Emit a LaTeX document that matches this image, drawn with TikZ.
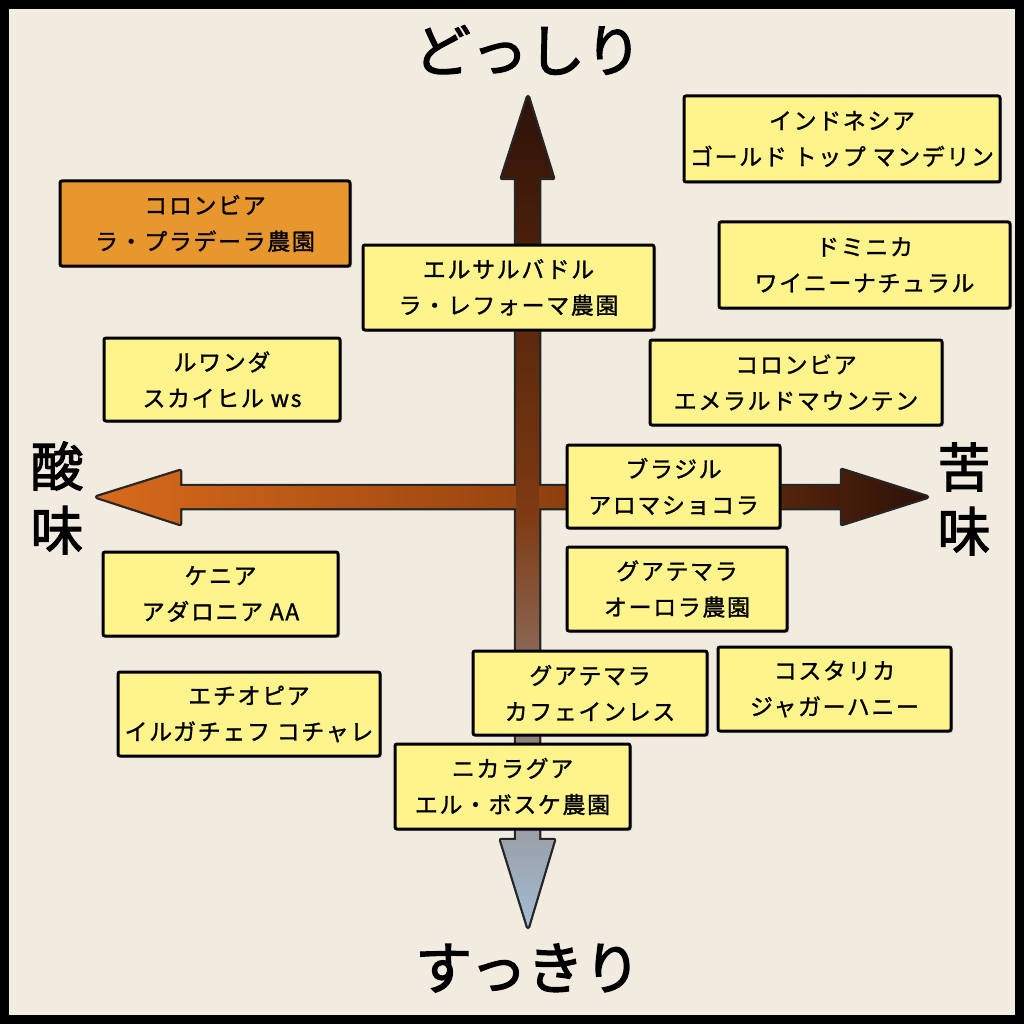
\documentclass[tikz,border=0pt]{standalone}
\usepackage{fontspec}
\setmainfont{Noto Sans CJK JP}
\newfontfamily\boxfont[LetterSpace=7, FakeBold=1.2]{Noto Sans CJK JP}
\newfontfamily\bigfont[FakeBold=2.2]{Noto Sans CJK JP}
\usetikzlibrary{shadows}
\definecolor{bgc}{HTML}{F2ECE0}
\definecolor{boxy}{HTML}{FFF48C}
\definecolor{boxo}{HTML}{E8962E}
\definecolor{darkbr}{HTML}{2E1208}
\definecolor{midbr}{HTML}{7E3A12}
\definecolor{lblue}{HTML}{A2BDD4}
\definecolor{orng}{HTML}{D86A1C}
\definecolor{hmid}{HTML}{9A4610}
\tikzset{
  bean/.style={draw=black, line width=3pt, rounded corners=2pt, fill=boxy,
    align=center, inner sep=0pt,
    font={\boxfont\fontsize{23}{36}\selectfont},
    drop shadow={opacity=0.3, shadow xshift=2pt, shadow yshift=-2pt}},
  beanorange/.style={bean, fill=boxo},
  biglabel/.style={font={\bigfont\fontsize{57}{60}\selectfont}, inner sep=0pt},
  sidelabel/.style={font={\bigfont\fontsize{53}{64}\selectfont}, inner sep=0pt, align=center},
  arrowline/.style={draw=black!85, line width=4.5pt, line join=round},
}
\begin{document}
\begin{tikzpicture}[x=1pt,y=-1pt]
\useasboundingbox (0,0) rectangle (1024,1024);
\fill[black] (0,0) rectangle (1024,1024);
\fill[bgc] (9,9) rectangle (1015,1015);

% axis arrows: outlines
\coordinate (vtop) at (528,97);
\coordinate (vbot) at (528,927);
\coordinate (hleft) at (97,497);
\coordinate (hright) at (927,497);
\def\hpath{(hleft) -- (180,471) -- (180,486) -- (842,486) -- (842,470) -- (hright) -- (842,524) -- (842,508) -- (180,508) -- (180,524) -- cycle}
\def\vpath{(vtop) -- (553,178) -- (539,178) -- (539,840) -- (554,840) -- (vbot) -- (501,840) -- (516,840) -- (516,178) -- (502,178) -- cycle}
\draw[arrowline] \hpath;
\draw[arrowline] \vpath;
\shade[left color=orng, right color=darkbr, middle color=hmid] \hpath;
\shade[top color=darkbr, bottom color=lblue, middle color=midbr] \vpath;

% axis labels
\node[biglabel] (heavy) at (528,50) {どっしり};
\node[biglabel] (light) at (528,968) {すっきり};
\node[sidelabel] (sour) at (57,498) {酸\\味};
\node[sidelabel] (bitter) at (964,499) {苦\\味};

% beans
\node[bean, minimum width=316pt, minimum height=86pt] (indo) at (842,139) {インドネシア\\ゴールド トップ マンデリン};
\node[beanorange, minimum width=290pt, minimum height=85pt] (colpra) at (205,223.5) {コロンビア\\ラ・プラデーラ農園};
\node[bean, minimum width=291pt, minimum height=86pt] (domi) at (864.5,265) {ドミニカ\\ワイニーナチュラル};
\node[bean, minimum width=291pt, minimum height=85pt] (elsal) at (508.5,287.5) {エルサルバドル\\ラ・レフォーマ農園};
\node[bean, minimum width=236pt, minimum height=83pt] (rwa) at (222,379.5) {ルワンダ\\スカイヒル ws};
\node[bean, minimum width=292pt, minimum height=85pt] (colem) at (796,382.5) {コロンビア\\エメラルドマウンテン};
\node[bean, minimum width=213pt, minimum height=83pt] (bra) at (673.5,486.5) {ブラジル\\アロマショコラ};
\node[bean, minimum width=235pt, minimum height=84pt] (ken) at (220.5,594) {ケニア\\アダロニア AA};
\node[bean, minimum width=220pt, minimum height=84pt] (guaau) at (677,589) {グアテマラ\\オーロラ農園};
\node[bean, minimum width=234pt, minimum height=84pt] (guacf) at (590,693) {グアテマラ\\カフェインレス};
\node[bean, minimum width=233pt, minimum height=84pt] (cos) at (834.5,689) {コスタリカ\\ジャガーハニー};
\node[bean, minimum width=262pt, minimum height=84pt] (eth) at (249,714) {エチオピア\\イルガチェフ コチャレ};
\node[bean, minimum width=235pt, minimum height=85pt] (nic) at (512.5,786.5) {ニカラグア\\エル・ボスケ農園};
\end{tikzpicture}
\end{document}
